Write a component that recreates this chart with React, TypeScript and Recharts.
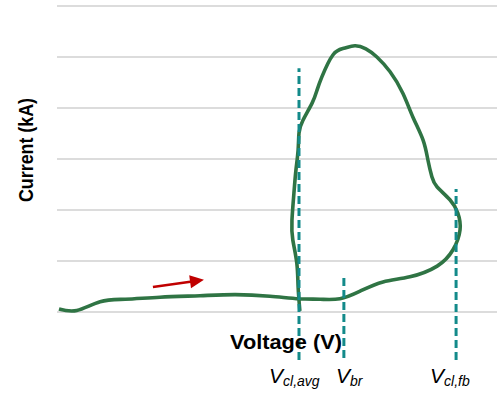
import React from "react";
import { LineChart, Line, XAxis, YAxis, CartesianGrid, ReferenceLine } from "recharts";

// I-V trajectory of the clamp event, traced in order (arbitrary voltage units, kA)
const voltage = [
  0.45, 4.5, 9.8, 15.5, 23.4, 32.5, 40.5, 48.4, 55.0, 59.8, 64.3, 68.9, 74.1, 80.2,
  86.4, 90.0, 91.6, 91.1, 89.3, 86.4, 85.2, 84.3, 83.2, 80.9, 78.6, 75.7, 72.7, 70.2,
  67.7, 65.2, 62.7, 60.2, 59.1, 58.0, 55.9, 55.0, 54.8, 54.3, 53.9, 53.4, 53.6, 54.5,
  54.8, 55.2,
];
const current = [
  0.06, 0.03, 0.2, 0.25, 0.29, 0.32, 0.34, 0.31, 0.26, 0.25, 0.26, 0.41, 0.59, 0.69,
  0.9, 1.22, 1.61, 1.94, 2.2, 2.45, 2.65, 2.98, 3.37, 3.82, 4.29, 4.71, 5.0, 5.16,
  5.22, 5.17, 5.04, 4.61, 4.35, 4.1, 3.76, 3.51, 3.18, 2.78, 2.39, 1.8, 1.41, 0.96,
  0.49, 0.02,
];
const currentTicks = [0, 1, 2, 3, 4, 5, 6];

// characteristic voltages: position, top of marker, bottom of marker
const markerNames = ["cl,avg", "br", "cl,fb"];
const markerVoltage = [55.0, 65.2, 90.7];
const markerTop = [4.78, 0.73, 2.41];
const markerBottom = [-0.94, -0.9, -0.94];

// direction arrow along the lower branch
const arrowFrom = { x: 21.8, y: 0.49 };
const arrowTo = { x: 33.4, y: 0.63 };

const data = voltage.map((v, i) => ({ v, i: current[i] }));

const GREEN = "#2F7444";
const TEAL = "#138A8A";
const RED = "#C00000";
const GRID = "#D0D0D0";

function Arrow(props: any) {
  const { x1, y1, x2, y2 } = props;
  const ang = Math.atan2(y2 - y1, x2 - x1);
  const len = 14;
  const half = 6.5;
  const bx = x2 - len * Math.cos(ang);
  const by = y2 - len * Math.sin(ang);
  const px = -Math.sin(ang) * half;
  const py = Math.cos(ang) * half;
  return (
    <g>
      <line x1={x1} y1={y1} x2={bx + 2 * Math.cos(ang)} y2={by + 2 * Math.sin(ang)} stroke={RED} strokeWidth={2.5} />
      <polygon points={`${x2},${y2} ${bx + px},${by + py} ${bx - px},${by - py}`} fill={RED} />
    </g>
  );
}

// subscript labels under each marker line
const labelX = [269, 336, 430];

export default function App() {
  return (
    <div style={{ position: "fixed", left: 0, top: 0, width: 497, height: 393, background: "#fff" }}>
      <LineChart
        width={497}
        height={393}
        data={data}
        margin={{ top: 6, right: 0, left: 57, bottom: 81 }}
      >
        <CartesianGrid
          horizontal
          vertical={false}
          horizontalValues={currentTicks}
          stroke={GRID}
          strokeWidth={1.3}
        />
        <XAxis type="number" dataKey="v" domain={[0, 100]} hide />
        <YAxis
          type="number"
          domain={[0, 6]}
          ticks={currentTicks}
          width={0}
          tick={() => <g />}
          tickLine={false}
          axisLine={{ stroke: GRID, strokeWidth: 1.3 }}
        />
        <Line
          type="natural"
          dataKey="i"
          stroke={GREEN}
          strokeWidth={3.6}
          dot={false}
          isAnimationActive={false}
        />
        {markerVoltage.map((x, k) => (
          <ReferenceLine
            key={markerNames[k]}
            segment={[
              { x, y: markerBottom[k] },
              { x, y: markerTop[k] },
            ]}
            stroke={TEAL}
            strokeWidth={3}
            strokeDasharray="8 4"
            ifOverflow="visible"
          />
        ))}
        <ReferenceLine
          segment={[arrowFrom, arrowTo]}
          ifOverflow="visible"
          shape={(p: any) => <Arrow {...p} />}
        />
      </LineChart>
      <svg
        width={497}
        height={393}
        style={{ position: "absolute", left: 0, top: 0, pointerEvents: "none" }}
        fontFamily="'Liberation Sans', Arial, sans-serif"
      >
        <text
          x={0}
          y={0}
          transform="translate(33,150) rotate(-90)"
          textAnchor="middle"
          fontSize={20}
          fontWeight="bold"
          textLength={104}
          lengthAdjust="spacingAndGlyphs"
          fill="#000"
        >
          Current (kA)
        </text>
        <text
          x={230}
          y={349}
          fontSize={20}
          fontWeight="bold"
          textLength={112}
          lengthAdjust="spacingAndGlyphs"
          fill="#000"
        >
          Voltage (V)
        </text>
        {markerNames.map((name, k) => (
          <text key={name} x={labelX[k]} y={383} fontStyle="italic" fill="#000">
            <tspan fontSize={21}>V</tspan>
            <tspan fontSize={14} dy={3}>{name}</tspan>
          </text>
        ))}
      </svg>
    </div>
  );
}
